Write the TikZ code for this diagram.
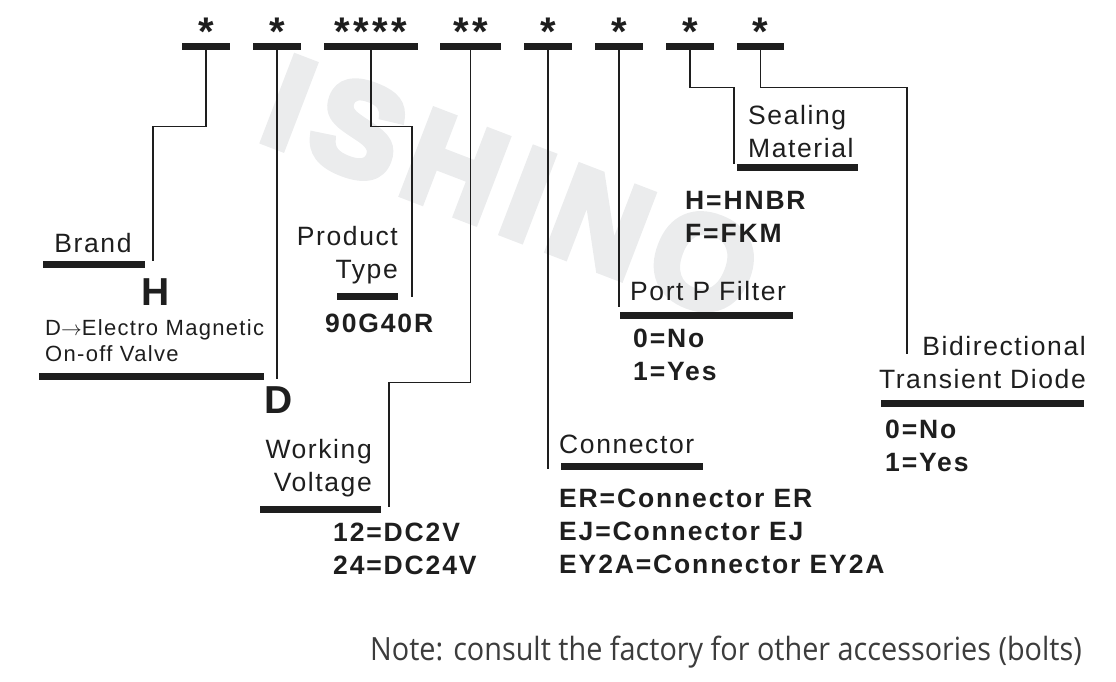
\documentclass[tikz,border=0pt]{standalone}
\usepackage{fontspec}
\setmainfont{Liberation Sans}
\newfontfamily\labfont[LetterSpace=6]{Liberation Sans}
\newfontfamily\optfont[LetterSpace=7]{Liberation Sans}
\newfontfamily\starfont[LetterSpace=9]{Liberation Sans}
\newfontfamily\markfont[FakeBold=6,LetterSpace=10]{Liberation Sans Bold}
\newfontfamily\notefont{Open Sans}
\definecolor{ink}{HTML}{1E1E1E}
\definecolor{wmgray}{HTML}{EBECED}
\definecolor{notegray}{HTML}{3C3C3C}
\begin{document}
\begin{tikzpicture}[x=1pt,y=-1pt,
  codebar/.style={fill=ink,inner sep=0,minimum height=7pt},
  wire/.style={draw=ink,line width=1.4pt},
  ast/.style={inner sep=0,anchor=base,text=ink,font={\starfont\bfseries\fontsize{40}{40}\selectfont}},
  lab/.style={inner sep=0,text=ink,font={\labfont\fontsize{26.5}{32.5}\selectfont}},
  opt/.style={inner sep=0,text=ink,align=left,font={\optfont\bfseries\fontsize{26.5}{33}\selectfont}},
  small/.style={inner sep=0,text=ink,align=left,font={\labfont\fontsize{22}{26}\selectfont}},
  big/.style={inner sep=0,anchor=base,text=ink,font={\bfseries\fontsize{39}{39}\selectfont}},
  wmark/.style={inner sep=0,text=wmgray,font={\markfont\fontsize{130}{130}\selectfont}}]
  \useasboundingbox (0,0) rectangle (1116,681);
  % watermark
  \node[wmark,rotate=-21,anchor=base west] (logo) at (256,138) {ISHINO};
  % code fields
  \node[codebar,minimum width=48pt] (t1) at (206,46.5) {};
  \node[codebar,minimum width=48pt] (t2) at (277,46.5) {};
  \node[codebar,minimum width=94pt] (t3) at (371,46.5) {};
  \node[codebar,minimum width=61pt] (t4) at (470.5,46.5) {};
  \node[codebar,minimum width=48pt] (t5) at (548,46.5) {};
  \node[codebar,minimum width=48pt] (t6) at (619,46.5) {};
  \node[codebar,minimum width=48pt] (t7) at (690,46.5) {};
  \node[codebar,minimum width=47pt] (t8) at (760.5,46.5) {};
  \foreach \t/\s in {t1/*,t2/*,t3/****,t4/**,t5/*,t6/*,t7/*,t8/*}
    \node[ast] (\t s) at ([yshift=1pt]\t.center) {\s};
  % ends of the leaders
  \coordinate (e1) at (153,261);
  \coordinate (e2) at (277,379);
  \coordinate (e3) at (412,297);
  \coordinate (e4) at (389,507);
  \coordinate (e5) at (548,469);
  \coordinate (e6) at (619,307);
  \coordinate (e7) at (734,164);
  \coordinate (e8) at (907,354);
  \draw[wire] (t1.south) -- ++(0,76) -| (e1);
  \draw[wire] (t2.south) -- (e2);
  \draw[wire] (t3.south) -- ++(0,76) -| (e3);
  \draw[wire] (t4.south) -- ++(0,332) -| (e4);
  \draw[wire] (t5.south) -- (e5);
  \draw[wire] (t6.south) -- (e6);
  \draw[wire] (t7.south) -- ++(0,37) -| (e7);
  \draw[wire] (t8.south) -- ++(0,37) -| (e8);
  % brand
  \node[codebar,minimum width=102pt] (b1) at (94,264) {};
  \node[lab,anchor=base] (brand) at (93,252) {Brand};
  \node[big] (hcode) at (155.5,305) {H};
  % valve type
  \node[small,anchor=base west] (valve) at (45,361) {D$\rightarrow$Electro Magnetic\\On-off Valve};
  \node[codebar,minimum width=225pt] (b2) at (151.5,376) {};
  \node[big] (dcode) at (278.5,413) {D};
  % product type
  \node[lab,anchor=base east,align=right] (prod) at (398,278) {Product\\Type};
  \node[codebar,minimum width=61pt] (b3) at (367.5,296) {};
  \node[opt,anchor=base west] (pcode) at (325,332) {90G40R};
  % working voltage
  \node[lab,anchor=base east,align=right] (volt) at (372,491) {Working\\Voltage};
  \node[codebar,minimum width=121pt] (b4) at (320.5,509) {};
  \node[opt,anchor=base west] (vcode) at (333,574) {12=DC2V\\24=DC24V};
  % connector
  \node[lab,anchor=base west] (conn) at (559,453) {Connector};
  \node[codebar,minimum width=142pt] (b5) at (632,466) {};
  \node[opt,anchor=base west] (ccode) at (559,573) {ER=Connector ER\\EJ=Connector EJ\\EY2A=Connector EY2A};
  % port P filter
  \node[lab,anchor=base west] (port) at (630,300) {Port P Filter};
  \node[codebar,minimum width=173pt] (b6) at (706.5,315) {};
  \node[opt,anchor=base west] (fcode) at (633,380) {0=No\\1=Yes};
  % sealing material
  \node[lab,anchor=base west,align=left] (seal) at (748,157) {Sealing\\Material};
  \node[codebar,minimum width=121pt] (b7) at (797.5,167) {};
  \node[opt,anchor=base west] (scode) at (685,242) {H=HNBR\\F=FKM};
  % diode
  \node[lab,anchor=base east,align=right] (diode) at (1086,388) {Bidirectional\\Transient Diode};
  \node[codebar,minimum width=203pt] (b8) at (982.5,403) {};
  \node[opt,anchor=base west] (tcode) at (885,471) {0=No\\1=Yes};
  % note
  \node[inner sep=0,anchor=base west,text=notegray,font={\notefont\fontsize{32}{32}\selectfont}] (note) at (370,660)
    {\scalebox{0.9}[1]{Note: consult the factory for other accessories (bolts)}};
\end{tikzpicture}
\end{document}
